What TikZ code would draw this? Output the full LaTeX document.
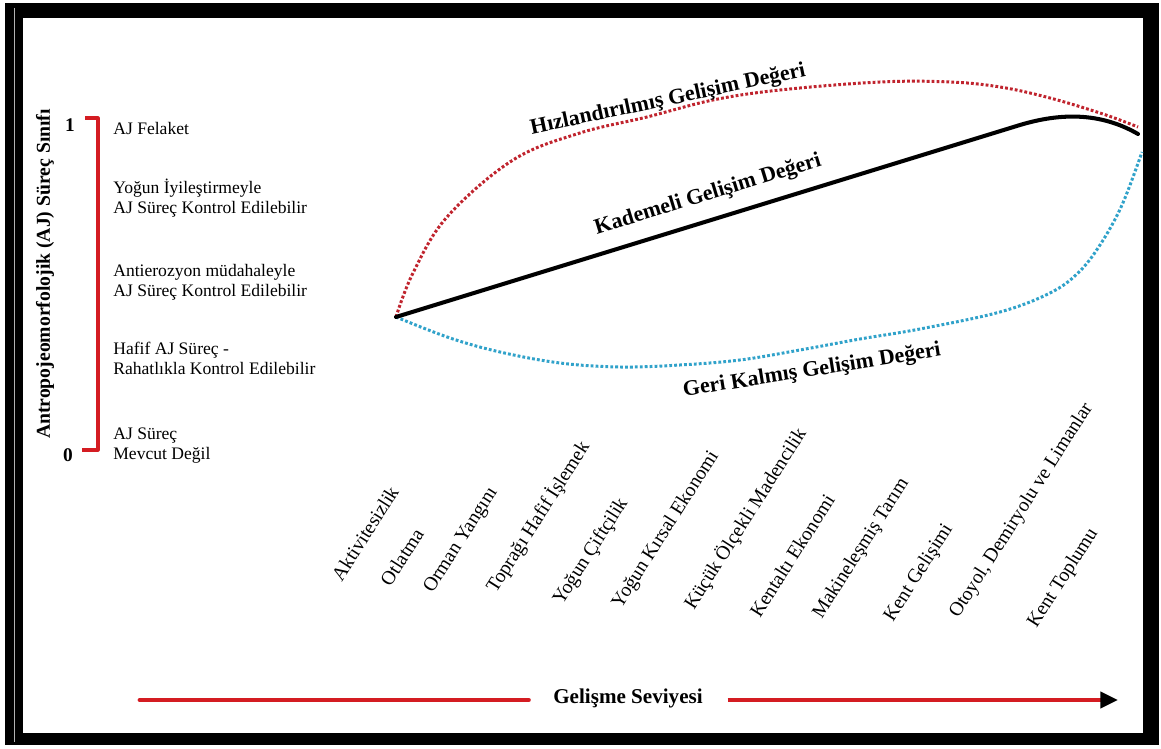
\documentclass[tikz,border=0pt]{standalone}
\usepackage{fontspec}
\setmainfont{Liberation Serif}
\usetikzlibrary{arrows.meta}
\definecolor{bracketred}{RGB}{212,28,34}
\definecolor{fastred}{RGB}{192,36,46}
\definecolor{slowblue}{RGB}{48,162,202}
\tikzset{
	levellabel/.style={anchor=west,align=left,inner sep=0pt,font=\fontsize{10}{11.3}\selectfont},
	activity/.style={anchor=east,inner sep=0pt,rotate=57.5,font=\fontsize{11.2}{12}\selectfont},
	curvelabel/.style={inner sep=0pt,font=\bfseries\fontsize{12.5}{14}\selectfont},
	dotcurve/.style={line width=1.7pt,dash pattern=on 1.6pt off 1.2pt},
	devline/.style={bracketred,line width=2.8pt},
}
\begin{document}
\begin{tikzpicture}[x=0.02cm,y=-0.02cm,line join=round]
	\useasboundingbox (0,0) rectangle (1161,749);
	\fill[black] (5,3) rectangle (1159,745);
	\fill[white] (23,18) rectangle (1143,733);
	\draw[gray!60,line width=0.5pt] (14,8) -- (14,742);
	% sol eksen
	\node[rotate=90,inner sep=0pt,font=\bfseries\fontsize{11.2}{13}\selectfont] (axis) at (45,274) {Antropojeomorfolojik (AJ) Süreç Sınıfı};
	\node[inner sep=0pt,font=\bfseries\fontsize{11}{13}\selectfont] (one) at (70,125) {1};
	\node[inner sep=0pt,font=\bfseries\fontsize{11}{13}\selectfont] (zero) at (68,455) {0};
	\draw[bracketred,line width=1.8pt] (85,118) -- (98,118) -- (98,450) -- (82,450);
	\node[levellabel] (felaket) at (113,128) {AJ Felaket};
	\node[levellabel] (iyiles) at (113,198) {Yoğun İyileştirmeyle\\AJ Süreç Kontrol Edilebilir};
	\node[levellabel] (anti) at (113,282) {Antierozyon müdahaleyle\\AJ Süreç Kontrol Edilebilir};
	\node[levellabel] (hafif) at (113,358) {Hafif AJ Süreç -\\Rahatlıkla Kontrol Edilebilir};
	\node[levellabel] (yok) at (113,446) {AJ Süreç\\Mevcut Değil};
	% egriler
	\coordinate (o) at (396,317);
	\draw[fastred,dotcurve] plot[smooth,tension=0.6] coordinates {(396,317) (413,273) (447,217) (513,160) (580,133) (647,117) (713,100) (780,90) (880,82) (950,82) (1000,87) (1050,98) (1103,114) (1138,127)};
	\draw[slowblue,dotcurve] plot[smooth,tension=0.6] coordinates {(396,317) (450,338) (500,352) (560,363) (620,367) (680,365) (740,360) (800,350) (860,339) (920,329) (1000,312) (1050,293) (1078,273) (1100,245) (1122,205) (1142,152)};
	\draw[line width=2.3pt,line cap=round] (o) -- (1020,125) .. controls (1060,113) and (1100,112) .. (1138,134);
	\node[curvelabel,rotate=12] (fast) at (668,100) {Hızlandırılmış Gelişim Değeri};
	\node[curvelabel,rotate=17] (step) at (708,195) {Kademeli Gelişim Değeri};
	\node[curvelabel,rotate=9] (slow) at (812,371) {Geri Kalmış Gelişim Değeri};
	% faaliyetler
	\foreach \px/\py/\txt [count=\i] in {394/488/Aktivitesizlik,419/530/Otlatma,494/489/Orman Yangını,585/443/Toprağı Hafif İşlemek,624/500/Yoğun Çiftçilik,715/453/Yoğun Kırsal Ekonomi,802/430/Küçük Ölçekli Madencilik,830/496/Kentaltı Ekonomi,905/480/Makineleşmiş Tarım,949/526/Kent Gelişimi,1089/405/{Otoyol, Demiryolu ve Limanlar},1094/530/Kent Toplumu}
		\node[activity] (act\i) at (\px,\py) {\txt};
	% gelisme ekseni
	\node[inner sep=0pt,inner xsep=14pt,font=\bfseries\fontsize{12}{14}\selectfont] (gel) at (628,698) {Gelişme Seviyesi};
	\coordinate (gstart) at (140,700);
	\coordinate (gend) at (1118,700);
	\draw[devline,line cap=round] (gstart) -- (gstart-|gel.west);
	\draw[devline,-{Triangle[black,length=10pt,width=9pt]}] (gend-|gel.east) -- (gend);
\end{tikzpicture}
\end{document}
